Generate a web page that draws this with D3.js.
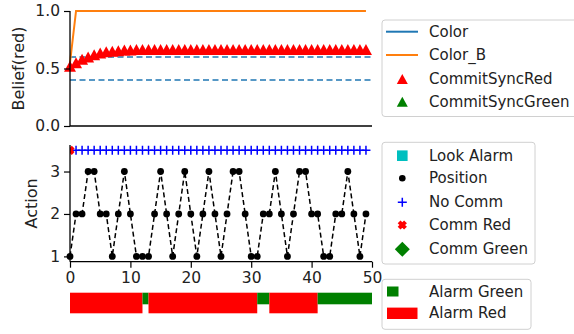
<!DOCTYPE html>
<html><head><meta charset="utf-8">
<script src="https://cdn.jsdelivr.net/npm/d3@7"></script>
<style>body{margin:0;background:#fff}svg{display:block;font-family:"DejaVu Sans",sans-serif}</style>
</head><body><svg id="c" width="574" height="334"></svg>
<script>
// ---------- data ----------
const steps = d3.range(50);
const colorB = [0.55].concat(d3.range(49).map(() => 1.0));
const commitSyncRed = [0.52,0.55,0.58,0.60,0.62,0.635,0.645,0.65,0.655,0.66,
  0.66,0.665,0.665,0.665,0.665,0.665,0.665,0.665,0.665,0.665,
  0.665,0.665,0.665,0.665,0.665,0.665,0.665,0.665,0.665,0.665,
  0.665,0.665,0.665,0.665,0.665,0.665,0.665,0.665,0.665,0.665,
  0.665,0.665,0.665,0.665,0.665,0.665,0.665,0.665,0.665,0.665];
const thresholds = [0.6, 0.4];
const position = [1,2,2,3,3,2,2,1,2,3,
  2,1,1,1,2,3,2,1,2,3,
  2,1,2,3,2,1,2,3,3,2,
  1,1,2,2,3,2,1,2,3,3,
  2,2,1,1,2,2,3,2,1,2];
const commLevel = 3.5;
const noCommSteps = d3.range(1, 50);
const commRedSteps = [0];
const alarm = "RRRRRRRRRRRRGRRRRRRRRRRRRRRRRRRGGRRRRRRRRGGGGGGGGG".split("");
const beliefTicks = [0, 0.5, 1.0];
const actionTicks = [1, 2, 3];
const stepTicks = [0, 10, 20, 30, 40, 50];
const legend1 = ["Color", "Color_B", "CommitSyncRed", "CommitSyncGreen"];
const legend2 = ["Look Alarm", "Position", "No Comm", "Comm Red", "Comm Green"];
const legend3 = ["Alarm Green", "Alarm Red"];

// ---------- setup ----------
const svg = d3.select("#c");
const FS = 15;
const BLUE = "#1f77b4", ORANGE = "#ff7f0e";
const x = d3.scaleLinear().domain([0, 50]).range([70, 372]);
const yB = d3.scaleLinear().domain([0, 1]).range([126, 11]);
const yA = d3.scaleLinear().domain([0.875, 3.625]).range([261.7, 145]);

svg.append("defs").append("clipPath").attr("id", "clipA")
  .append("rect").attr("x", 70).attr("y", 140).attr("width", 310).attr("height", 125);

function styleAxis(g) {
  g.select(".domain").remove();
  g.selectAll(".tick line").attr("stroke", "#000").attr("stroke-width", 1.2);
  g.selectAll(".tick text").attr("font-size", FS + 0.5).attr("fill", "#222")
    .attr("font-family", "DejaVu Sans");
}

// ---- top: belief ----
const gB = svg.append("g");
thresholds.forEach(t => {
  gB.append("line").attr("x1", x(0)).attr("x2", x(50)).attr("y1", yB(t)).attr("y2", yB(t))
    .attr("stroke", BLUE).attr("stroke-width", 1.6).attr("stroke-dasharray", "6,3.5");
});
gB.append("path").datum(steps)
  .attr("d", d3.line().x(i => x(i)).y(i => yB(colorB[i])))
  .attr("fill", "none").attr("stroke", ORANGE).attr("stroke-width", 2);
function tri(cx, cy, w, h) {
  return `M${cx},${cy - h / 2}L${cx + w / 2},${cy + h / 2}L${cx - w / 2},${cy + h / 2}Z`;
}
gB.selectAll("path.tri").data(steps).join("path").attr("class", "tri")
  .attr("d", i => tri(x(i), yB(commitSyncRed[i]), 12, 11)).attr("fill", "red");
gB.append("g").attr("transform", `translate(${x(0)},0)`)
  .call(d3.axisLeft(yB).tickValues(beliefTicks).tickFormat(d3.format(".1f")).tickSize(6).tickPadding(4))
  .call(styleAxis);
gB.append("line").attr("x1", x(0)).attr("x2", x(0)).attr("y1", yB(1)).attr("y2", yB(0))
  .attr("stroke", "#000").attr("stroke-width", 1.3);
gB.append("line").attr("x1", x(0)).attr("x2", x(50)).attr("y1", yB(0)).attr("y2", yB(0))
  .attr("stroke", "#000").attr("stroke-width", 1.3);
svg.append("text").attr("transform", `translate(18,${(yB(0) + yB(1)) / 2}) rotate(-90)`)
  .attr("text-anchor", "middle").attr("dominant-baseline", "central")
  .attr("font-size", FS + 1).attr("fill", "#222").text("Belief(red)");

// ---- middle: action ----
const gA = svg.append("g");
gA.append("path").datum(steps)
  .attr("d", d3.line().x(i => x(i)).y(i => yA(position[i])))
  .attr("fill", "none").attr("stroke", "#000").attr("stroke-width", 1.5).attr("stroke-dasharray", "5,3");
gA.selectAll("circle.pos").data(steps).join("circle").attr("class", "pos")
  .attr("cx", i => x(i)).attr("cy", i => yA(position[i])).attr("r", 3.4).attr("fill", "#000");
function plus(cx, cy, s) { return `M${cx - s},${cy}H${cx + s}M${cx},${cy - s}V${cy + s}`; }
gA.selectAll("path.nc").data(noCommSteps).join("path").attr("class", "nc")
  .attr("d", i => plus(x(i), yA(commLevel), 4.5)).attr("stroke", "blue").attr("stroke-width", 1.5);
function xmark(cx, cy, s) { return `M${cx - s},${cy - s}L${cx + s},${cy + s}M${cx - s},${cy + s}L${cx + s},${cy - s}`; }
gA.append("g").attr("clip-path", "url(#clipA)")
  .selectAll("path.cr").data(commRedSteps).join("path").attr("class", "cr")
  .attr("d", i => xmark(x(i), yA(commLevel), 3.2)).attr("stroke", "red").attr("stroke-width", 4);
gA.append("g").attr("transform", `translate(${x(0)},0)`)
  .call(d3.axisLeft(yA).tickValues(actionTicks).tickFormat(d3.format("d")).tickSize(6).tickPadding(4))
  .call(styleAxis);
gA.append("g").attr("transform", `translate(0,${yA.range()[0]})`)
  .call(d3.axisBottom(x).tickValues(stepTicks).tickSize(6).tickPadding(4))
  .call(styleAxis);
gA.append("line").attr("x1", x(0)).attr("x2", x(0)).attr("y1", yA.range()[1]).attr("y2", yA.range()[0])
  .attr("stroke", "#000").attr("stroke-width", 1.3);
gA.append("line").attr("x1", x(0)).attr("x2", x(50)).attr("y1", yA.range()[0]).attr("y2", yA.range()[0])
  .attr("stroke", "#000").attr("stroke-width", 1.3);
svg.append("text").attr("transform", `translate(31,${(yA.range()[0] + yA.range()[1]) / 2}) rotate(-90)`)
  .attr("text-anchor", "middle").attr("dominant-baseline", "central")
  .attr("font-size", FS + 1).attr("fill", "#222").text("Action");

// ---- bottom: alarm bar ----
const barTop = 292.7, redH = 20.6, greenH = 11.6;
const runs = [];
alarm.forEach((a, i) => {
  const last = runs[runs.length - 1];
  if (last && last.a === a) last.end = i + 1; else runs.push({a, start: i, end: i + 1});
});
svg.append("g").selectAll("rect").data(runs).join("rect")
  .attr("x", d => x(d.start)).attr("width", d => x(d.end) - x(d.start))
  .attr("y", barTop).attr("height", d => d.a === "R" ? redH : greenH)
  .attr("fill", d => d.a === "R" ? "red" : "green");

// ---- legends ----
function frame(x0, y0, w, h) {
  svg.append("rect").attr("x", x0).attr("y", y0).attr("width", w).attr("height", h)
    .attr("rx", 3).attr("fill", "#fff").attr("fill-opacity", 0.8)
    .attr("stroke", "#d0d0d0").attr("stroke-width", 1);
}
function label(tx, ty, t) {
  svg.append("text").attr("x", tx).attr("y", ty).attr("dominant-baseline", "central")
    .attr("font-size", FS).attr("fill", "#222").text(t);
}
const LX = 402.3, TX = 429;
// legend 1
frame(382, 20, 200, 96.5);
const l1y = [31.7, 55, 79, 101.7];
svg.append("line").attr("x1", 386).attr("x2", 418).attr("y1", l1y[0]).attr("y2", l1y[0]).attr("stroke", BLUE).attr("stroke-width", 2);
svg.append("line").attr("x1", 386).attr("x2", 418).attr("y1", l1y[1]).attr("y2", l1y[1]).attr("stroke", ORANGE).attr("stroke-width", 2);
svg.append("path").attr("d", tri(LX, l1y[2], 11, 10)).attr("fill", "red");
svg.append("path").attr("d", tri(LX, l1y[3], 11, 10)).attr("fill", "green");
legend1.forEach((t, i) => label(TX, l1y[i], t));
// legend 2
frame(382, 142.3, 153, 121.7);
const l2y = [155.7, 178.3, 202.3, 225, 249.3];
svg.append("rect").attr("x", LX - 5.3).attr("y", l2y[0] - 5.3).attr("width", 10.6).attr("height", 10.6).attr("fill", "#00bfbf");
svg.append("circle").attr("cx", LX).attr("cy", l2y[1]).attr("r", 3.3).attr("fill", "#000");
svg.append("path").attr("d", plus(LX, l2y[2], 4.5)).attr("stroke", "blue").attr("stroke-width", 1.5);
svg.append("path").attr("d", xmark(LX, l2y[3], 3.2)).attr("stroke", "red").attr("stroke-width", 4);
svg.append("path").attr("d", `M${LX},${l2y[4] - 7.5}L${LX + 7.5},${l2y[4]}L${LX},${l2y[4] + 7.5}L${LX - 7.5},${l2y[4]}Z`).attr("fill", "green");
legend2.forEach((t, i) => label(TX, l2y[i], t));
// legend 3
frame(382, 279.3, 149, 50);
const l3y = [291.5, 313.3];
svg.append("rect").attr("x", 387).attr("y", l3y[0] - 5).attr("width", 11.5).attr("height", 10).attr("fill", "green");
svg.append("rect").attr("x", 387).attr("y", l3y[1] - 5.7).attr("width", 30.5).attr("height", 11.4).attr("fill", "red");
legend3.forEach((t, i) => label(TX, l3y[i], t));
</script></body></html>
